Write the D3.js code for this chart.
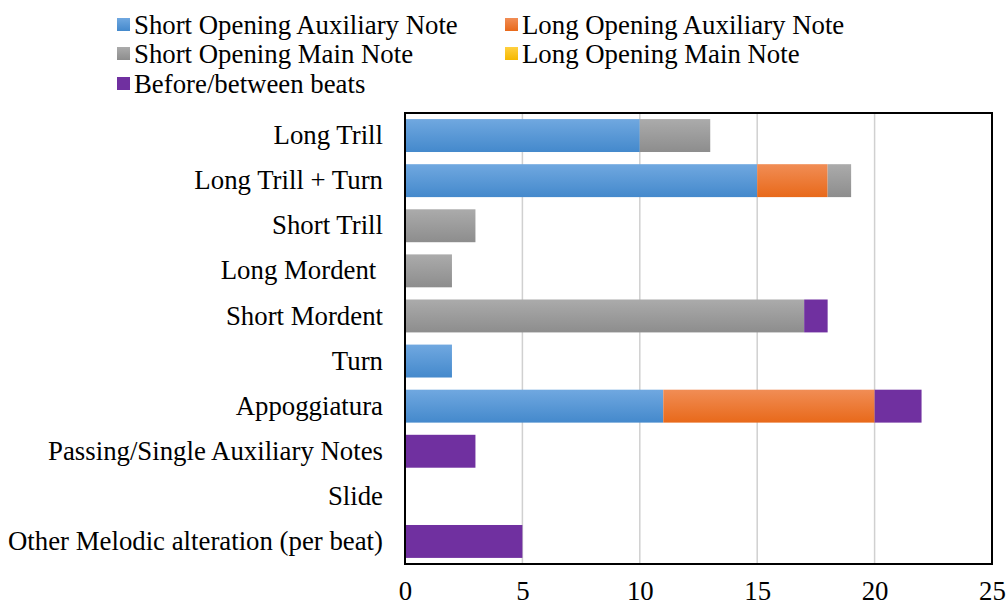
<!DOCTYPE html>
<html><head><meta charset="utf-8">
<script src="https://cdn.jsdelivr.net/npm/d3@7"></script>
<style>body{margin:0;background:#fff}svg{display:block}</style>
</head><body>
<svg id="c" width="1008" height="608"></svg>
<script>
const categories = ["Long Trill","Long Trill + Turn","Short Trill","Long Mordent ","Short Mordent","Turn","Appoggiatura","Passing/Single Auxiliary Notes","Slide","Other Melodic alteration (per beat)"];
const seriesNames = ["Short Opening Auxiliary Note","Long Opening Auxiliary Note","Short Opening Main Note","Long Opening Main Note","Before/between beats"];
const shortAux  = [10,15,0,0,0,2,11,0,0,0];
const longAux   = [0,3,0,0,0,0,9,0,0,0];
const shortMain = [3,1,3,2,17,0,0,0,0,0];
const longMain  = [0,0,0,0,0,0,0,0,0,0];
const beforeBetween = [0,0,0,0,1,0,2,3,0,5];
const xTicks = [0,5,10,15,20,25];
const colors = [["#70a8e0","#4489cc"],["#f18d55","#e8691a"],["#ababab","#8d8d8d"],["#ffd040","#f5b800"],["#7030a0","#7030a0"]];

const seriesVals = [shortAux,longAux,shortMain,longMain,beforeBetween];
const data = categories.map((c,i)=>{const o={cat:c};seriesNames.forEach((s,j)=>o[s]=seriesVals[j][i]);return o;});
const stacked = d3.stack().keys(seriesNames)(data);

const svg = d3.select("#c");
const L=405,R=992,T=113,B=564;
const x = d3.scaleLinear().domain([0,25]).range([L,R]);
const y = d3.scaleBand().domain(categories).range([T,B]).paddingInner(0.27).paddingOuter(0.135);

const defs = svg.append("defs");
colors.forEach((c,i)=>{
  const g=defs.append("linearGradient").attr("id","g"+i).attr("x1",0).attr("y1",0).attr("x2",0).attr("y2",1);
  g.append("stop").attr("offset","0%").attr("stop-color",c[0]);
  g.append("stop").attr("offset","100%").attr("stop-color",c[1]);
});

// gridlines
svg.append("g").selectAll("line").data(xTicks.slice(1,-1)).join("line")
  .attr("x1",d=>x(d)).attr("x2",d=>x(d)).attr("y1",T).attr("y2",B)
  .attr("stroke","#d0d0d0").attr("stroke-width",1.5);

// bars
svg.append("g").selectAll("g").data(stacked).join("g")
  .attr("fill",(d,i)=>`url(#g${i})`)
  .selectAll("rect").data(d=>d.filter(e=>e[1]-e[0]>0)).join("rect")
  .attr("x",d=>x(d[0])).attr("width",d=>x(d[1])-x(d[0]))
  .attr("y",d=>y(d.data.cat)).attr("height",y.bandwidth());

// frame
svg.append("rect").attr("x",L).attr("y",T).attr("width",R-L).attr("height",B-T)
  .attr("fill","none").attr("stroke","#000").attr("stroke-width",2);

const font = "'Liberation Serif','Times New Roman',serif";
const fs = 26.8;
// x axis
const xa = svg.append("g").attr("transform",`translate(0,${B})`)
  .call(d3.axisBottom(x).tickValues(xTicks).tickSize(0).tickPadding(17));
xa.select(".domain").remove();
xa.selectAll("text").attr("font-family",font).attr("font-size",fs).attr("fill","#000");

// y axis
const ya = svg.append("g").attr("transform",`translate(${L},0)`)
  .call(d3.axisLeft(y).tickSize(0).tickPadding(22));
ya.select(".domain").remove();
ya.selectAll("text").attr("font-family",font).attr("font-size",fs).attr("fill","#000")
  .style("white-space","pre");

// legend
const legPos = [[117,25],[505,25],[117,54],[505,54],[117,84]];
const lg = svg.append("g").selectAll("g").data(seriesNames).join("g")
  .attr("transform",(d,i)=>`translate(${legPos[i][0]},${legPos[i][1]})`);
lg.append("rect").attr("x",0).attr("y",-7).attr("width",13).attr("height",13).attr("fill",(d,i)=>`url(#g${i})`);
lg.append("text").attr("x",17).attr("y",0).attr("dy","0.35em").text(d=>d)
  .attr("font-family",font).attr("font-size",fs).attr("fill","#000");
</script>
</body></html>
